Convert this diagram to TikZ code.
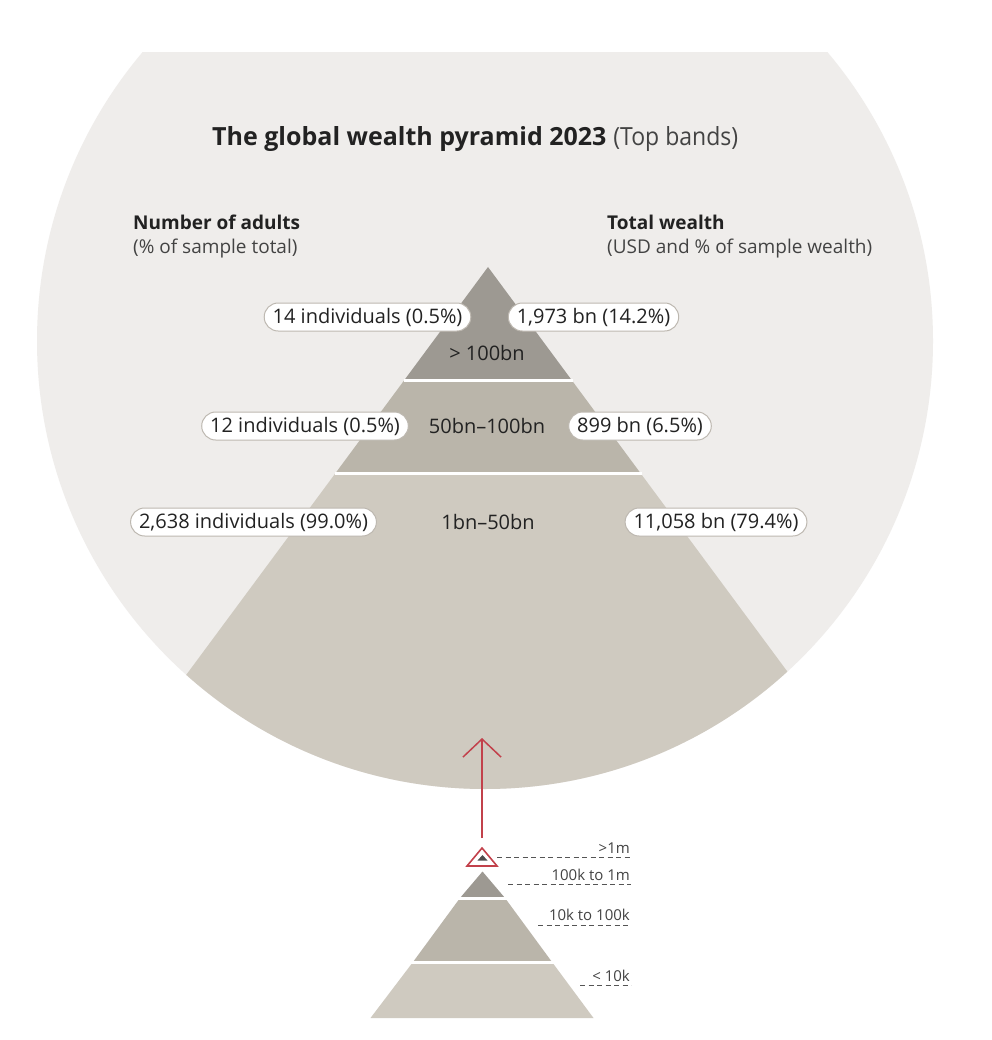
\documentclass[tikz,border=0pt]{standalone}
\usepackage{fontspec}
\setmainfont{Open Sans}
\newfontfamily\titlefont{Open Sans}
\newfontfamily\lighttitle[FakeStretch=0.92]{Open Sans}
\newfontfamily\pillfont{Open Sans}
\usetikzlibrary{shapes.misc,arrows.meta}
\definecolor{bgc}{HTML}{EFEDEB}
\definecolor{bandA}{HTML}{9D9992}
\definecolor{bandB}{HTML}{BAB5AA}
\definecolor{bandC}{HTML}{CFCAC0}
\definecolor{pillline}{HTML}{BDB8B0}
\definecolor{redc}{HTML}{C2414B}
\definecolor{txt}{HTML}{222222}
\definecolor{dashc}{HTML}{555555}
\tikzset{
  pill/.style={rounded rectangle, draw=pillline, line width=1pt, fill=white,
    inner xsep=5pt, minimum height=28pt, font=\pillfont\fontsize{20}{23}\selectfont, text=txt},
  bandlabel/.style={font=\pillfont\fontsize{20}{23}\selectfont, text=txt},
  headb/.style={font=\bfseries\fontsize{19}{22}\selectfont, text=txt, anchor=base west, inner sep=0pt},
  headr/.style={font=\fontsize{19}{22}\selectfont, text=txt!85, anchor=base west, inner sep=0pt},
  smalllab/.style={font=\fontsize{15}{17}\selectfont, text=txt!85, anchor=base east, inner sep=0pt},
  leader/.style={draw=dashc, line width=1pt, dash pattern=on 5pt off 3.5pt},
  sep/.style={draw=white, line width=2.5pt},
}
\begin{document}
\begin{tikzpicture}[x=1pt,y=-1pt]
\useasboundingbox[fill=white] (0,0) rectangle (991,1040);
% circle background, cut at top
\begin{scope}
  \clip (0,53) rectangle (991,1040);
  \fill[bgc] (485,341) circle[radius=448];
\end{scope}
% big pyramid, clipped to circle
\begin{scope}
  \clip (485,341) circle[radius=448];
  \fill[bandC] (488-152.4,473) -- (488+152.4,473) -- (488+394.4,800) -- (488-394.4,800) -- cycle;
  \fill[bandB] (488-83.6,380) -- (488+83.6,380) -- (488+152.4,473) -- (488-152.4,473) -- cycle;
  \fill[bandA] (488,267) -- (488+83.6,380) -- (488-83.6,380) -- cycle;
  \coordinate (s1l) at (488-84.5,380.5);
  \coordinate (s1r) at (488+84.5,380.5);
  \coordinate (s2l) at (488-153.5,473.5);
  \coordinate (s2r) at (488+153.5,473.5);
  \draw[sep] (s1l) -- (s1r);
  \draw[sep] (s2l) -- (s2r);
\end{scope}
% title
\node[anchor=base west, inner sep=0pt, text=txt] (title) at (212,146)
  {{\titlefont\bfseries\fontsize{25}{30}\selectfont The global wealth pyramid 2023}\hspace{7pt}{\lighttitle\fontsize{25}{30}\selectfont\color{txt!85}(Top bands)}};
% column heads
\node[headb] (lh1) at (133,230) {Number of adults};
\node[headr] (lh2) at (133,254) {(\% of sample total)};
\node[headb] (rh1) at (607,230) {Total wealth};
\node[headr] (rh2) at (607,254) {(USD and \% of sample wealth)};
% band labels
\node[bandlabel] (b1) at (487,353) {> 100bn};
\node[bandlabel] (b2) at (487,426) {50bn–100bn};
\node[bandlabel] (b3) at (488,522) {1bn–50bn};
% pills
\node[pill] (p1) at (367.5,317) {14 individuals (0.5\%)};
\node[pill] (p2) at (593.5,317) {1,973 bn (14.2\%)};
\node[pill] (p3) at (305,426) {12 individuals (0.5\%)};
\node[pill] (p4) at (640,426) {899 bn (6.5\%)};
\node[pill] (p5) at (253.5,522) {2,638 individuals (99.0\%)};
\node[pill] (p6) at (716,522) {11,058 bn (79.4\%)};
% small pyramid
\fill[bandC] (413,962) -- (552,962) -- (593.5,1018) -- (370.5,1018) -- cycle;
\fill[bandB] (460,898) -- (505,898) -- (552,962) -- (413,962) -- cycle;
\fill[bandA] (482.5,871.5) -- (505,898) -- (460,898) -- cycle;
\draw[sep, line width=3pt] (458,898) -- (507,898);
\draw[sep, line width=3pt] (411,962) -- (554,962);
% red marker triangle
\coordinate (rt) at (482,848);
\draw[redc, line width=1.6pt, line join=miter] (rt) -- (497,866) -- (467,866) -- cycle;
\fill[txt!80] (482.5,855) -- (487.5,860.5) -- (477.5,860.5) -- cycle;
% arrow
\coordinate (atip) at (482,738);
\coordinate (abase) at (482,838);
\draw[redc, line width=1.5pt, -{Straight Barb[length=18pt, width=38pt, line width=1.5pt]}] (abase) -- (atip);
% leaders
\coordinate (l1a) at (497,857.5); \coordinate (l1b) at (631,857.5);
\coordinate (l2a) at (508,884.5); \coordinate (l2b) at (631,884.5);
\coordinate (l3a) at (538,925);   \coordinate (l3b) at (631,925);
\coordinate (l4a) at (580,985.5); \coordinate (l4b) at (631,985.5);
\draw[leader] (l1a) -- (l1b);
\draw[leader] (l2a) -- (l2b);
\draw[leader] (l3a) -- (l3b);
\draw[leader] (l4a) -- (l4b);
\node[smalllab] (t1) at (630,853) {>1m};
\node[smalllab] (t2) at (630,880) {100k to 1m};
\node[smalllab] (t3) at (630,920) {10k to 100k};
\node[smalllab] (t4) at (630,981.5) {< 10k};
\end{tikzpicture}
\end{document}
